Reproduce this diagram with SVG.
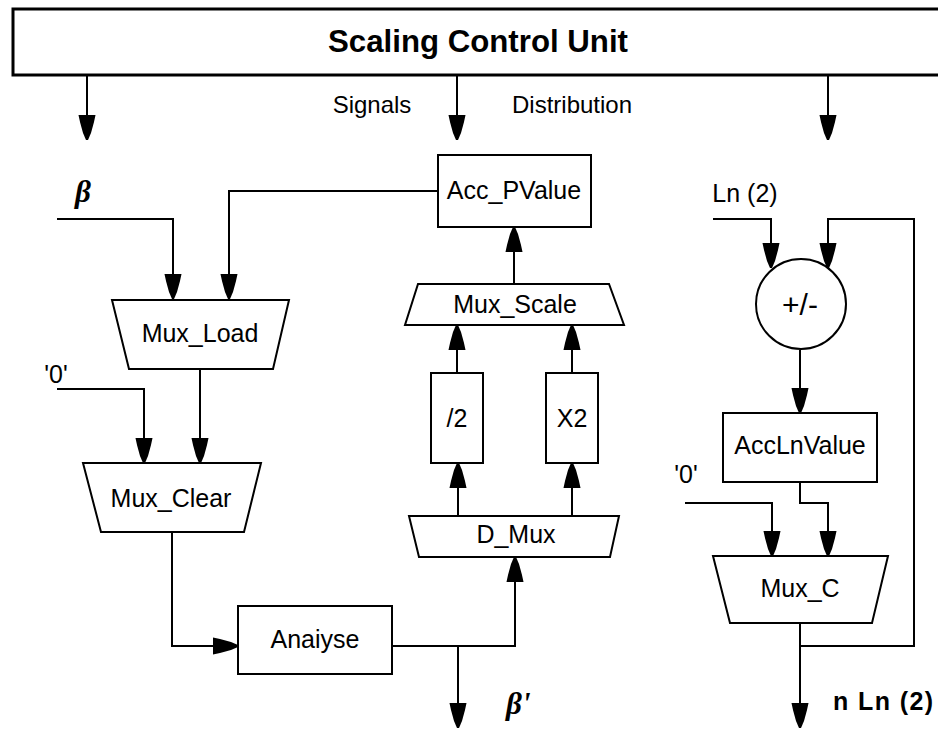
<svg xmlns="http://www.w3.org/2000/svg" width="938" height="729" viewBox="0 0 938 729">
<style>
.s{fill:#fff;stroke:#000;stroke-width:2}
.t{font-family:"Liberation Sans",Arial,sans-serif;font-size:25px;fill:#000;text-anchor:middle}
.c{fill:none;stroke:#000;stroke-width:2}
.b{font-family:"Liberation Serif","Times New Roman",serif;font-weight:bold;font-style:italic;font-size:31px;fill:#000}
</style>
<defs>
<marker id="ah" markerUnits="userSpaceOnUse" viewBox="-26 -10 28 20" refX="0" refY="0" markerWidth="28" markerHeight="20" orient="auto" overflow="visible">
<path d="M-25,-8.5 L-18,-7 L-7,-4 L0,-1 L0,1 L-7,4 L-18,7 L-25,8.5 Z" fill="#000"/>
</marker>
</defs>
<rect width="938" height="729" fill="#fff"/>

<g id="connectors" class="c" marker-end="url(#ah)">
<path d="M87,75 V140"/>
<path d="M457,75 V140"/>
<path d="M828,75 V140"/>
<path d="M57,219 H173 V299"/>
<path d="M438,191 H229 V299"/>
<path d="M200,369 V463"/>
<path d="M57,389 H144 V463"/>
<path d="M172,532 V646 H238"/>
<path d="M392,646 H515 V557"/>
<path d="M458,646 V728"/>
<path d="M458,516 V463"/>
<path d="M572,516 V463"/>
<path d="M457,373 V325"/>
<path d="M572,373 V325"/>
<path d="M514,284 V227"/>
<path d="M713,219 H771 V268"/>
<path d="M800,646 H914 V219 H828 V268"/>
<path d="M800,350 V413"/>
<path d="M685,503 H772 V556"/>
<path d="M800,482 V503 H828 V556"/>
<path d="M800,623 V728"/>
</g>

<g id="scu">
<rect x="13" y="9" width="940" height="66" fill="#fff" stroke="#000" stroke-width="3"/>
<text x="478" y="52" class="t" style="font-weight:bold;font-size:31px" textLength="300" lengthAdjust="spacingAndGlyphs">Scaling Control Unit</text>
</g>
<g id="sig-label">
<text x="372" y="113" class="t" style="font-size:24px">Signals</text>
<text x="572" y="113" class="t" style="font-size:24px">Distribution</text>
</g>

<g id="acc_pvalue">
<rect x="438" y="155" width="153" height="72" class="s"/>
<text x="514" y="199" class="t">Acc_PValue</text>
</g>
<g id="mux_scale">
<polygon points="418,284 609,284 624,325 405,325" class="s"/>
<text x="515" y="313" class="t">Mux_Scale</text>
</g>
<g id="div2">
<rect x="431" y="373" width="52" height="90" class="s"/>
<text x="457" y="427" class="t">/2</text>
</g>
<g id="x2">
<rect x="546" y="373" width="52" height="90" class="s"/>
<text x="572" y="427" class="t">X2</text>
</g>
<g id="d_mux">
<polygon points="409,516 619,516 610,557 419,557" class="s"/>
<text x="516" y="543" class="t">D_Mux</text>
</g>

<g id="beta-in">
<text x="75" y="202" class="b">β</text>
</g>
<g id="mux_load">
<polygon points="112,300 289,300 273,369 129,369" class="s"/>
<text x="200" y="342" class="t">Mux_Load</text>
</g>
<g id="zero-left">
<text x="56" y="383" class="t">'0'</text>
</g>
<g id="mux_clear">
<polygon points="83,463 261,463 244,532 101,532" class="s"/>
<text x="171" y="507" class="t">Mux_Clear</text>
</g>
<g id="analyse">
<rect x="238" y="606" width="154" height="68" class="s"/>
<text x="315" y="648" class="t">Anaiyse</text>
</g>
<g id="beta-out">
<text x="506" y="714" class="b">β'</text>
</g>

<g id="ln2-in">
<text x="745" y="202" class="t">Ln (2)</text>
</g>
<g id="addsub">
<circle cx="801" cy="304" r="45" class="s"/>
<text x="800" y="315" class="t" style="font-size:30px">+/-</text>
</g>
<g id="acclnvalue">
<rect x="723" y="413" width="154" height="69" class="s"/>
<text x="800" y="454" class="t">AccLnValue</text>
</g>
<g id="zero-right">
<text x="686" y="483" class="t">'0'</text>
</g>
<g id="mux_c">
<polygon points="713,556 888,556 872,623 730,623" class="s"/>
<text x="800" y="597" class="t">Mux_C</text>
</g>
<g id="nln2-out">
<text x="833" y="710" style="font-family:'Liberation Sans',Arial,sans-serif;font-weight:bold;font-size:25px" textLength="100">n Ln (2)</text>
</g>
</svg>
